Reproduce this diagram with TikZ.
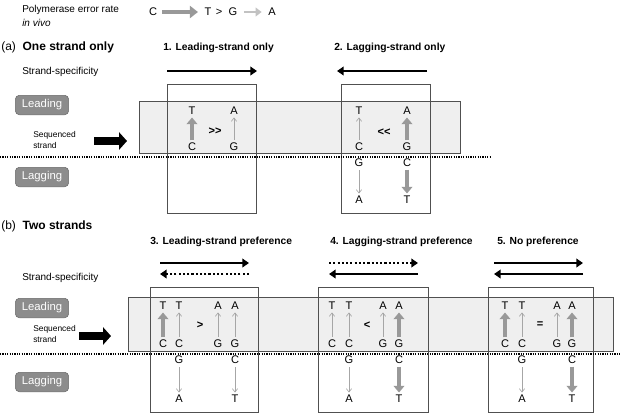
\documentclass[tikz,border=0pt]{standalone}
\usepackage{fontspec}
\setmainfont{Liberation Sans}
\usetikzlibrary{arrows.meta}

\definecolor{btngray}{HTML}{8C8C8C}
\definecolor{btnedge}{HTML}{6A6A6A}
\definecolor{bandgray}{HTML}{EFEFEF}
\definecolor{framegray}{HTML}{505050}
\definecolor{hotgray}{HTML}{999999}
\definecolor{coldgray}{HTML}{A6A6A6}
\definecolor{palegray}{HTML}{C2C2C2}

\begin{document}
\begin{tikzpicture}[x=0.75pt,y=-0.75pt,
  base/.style={inner sep=0.8pt,font=\fontsize{8.3}{9}\selectfont},
  rel/.style={inner sep=0.8pt,font=\fontsize{8.3}{9}\selectfont\bfseries},
  txt/.style={anchor=west,inner sep=0,font=\fontsize{7.5}{9}\selectfont},
  lbl/.style={anchor=west,inner sep=0,font=\fontsize{7.7}{9}\selectfont\bfseries},
  part/.style={anchor=west,inner sep=0,font=\fontsize{9}{10}\selectfont},
  btn/.style={draw=btnedge,fill=btngray,text=white,rounded corners=3pt,minimum width=40pt,minimum height=14pt,font=\fontsize{8.5}{9}\selectfont},
  seqtxt/.style={anchor=west,inner sep=0,align=left,font=\fontsize{6.3}{8.6}\selectfont},
  hot/.style={draw=hotgray,line width=2.7pt,-{Triangle[length=5pt,width=8pt]},shorten <=1pt,shorten >=1pt},
  cold/.style={draw=coldgray,line width=0.5pt,-{Straight Barb[length=2.5pt,width=4pt]},shorten <=1.5pt,shorten >=1pt},
  spec/.style={line width=2pt,-{Triangle[length=5pt,width=6.5pt]}},
  specdot/.style={spec,dash pattern=on 1.6pt off 1.6pt},
  seq/.style={line width=6pt,-{Triangle[length=6pt,width=13pt]}},
  band/.style={draw=framegray,fill=bandgray,line width=0.5pt},
  frame/.style={draw=framegray,line width=0.6pt},
  split/.style={line width=1.4pt,dash pattern=on 0.9pt off 0.9pt}]
\useasboundingbox (0,0) rectangle (620,419);

% Error rate
\node [txt] (rate) at (22,10) {Polymerase error rate};
\node [txt] (vivo) at (22,23) {\itshape in vivo};
\node [base] (rC) at (153,12) {C};
\node [base] (rT) at (208,12) {T};
\node [base] (rgt) at (219,12) {>};
\node [base] (rG) at (233,12) {G};
\node [base] (rA) at (272,12) {A};
\draw [hot,line width=3pt,-{Triangle[length=6pt,width=9pt]},shorten <=3pt,shorten >=4pt] (rC) -- (rT);
\draw [draw=palegray,line width=1.5pt,-{Triangle[length=4.5pt,width=6.5pt]},shorten <=4pt,shorten >=4pt] (rG) -- (rA);

% (a) One strand only
\node [part] (parta) at (1,47) {(a)\ \ \textbf{One strand only}};
\node [lbl] (lab1) at (163,48) {1. Leading-strand only};
\node [lbl] (lab2) at (334,48) {2. Lagging-strand only};
\node [txt] (specA) at (22,72) {Strand-specificity};
\coordinate (s1a) at (167,71);
\coordinate (s1b) at (257,71);
\coordinate (s2a) at (427,71);
\coordinate (s2b) at (337,71);
\draw [spec] (s1a) -- (s1b);
\draw [spec] (s2a) -- (s2b);

\draw [band] (139,101) rectangle (460,153);
\draw [frame] (167,84) rectangle (256,213);
\draw [frame] (341,84) rectangle (430,213);
\draw [split] (0,157) -- (490,157);

\node [btn] (leadA) at (42,105) {Leading};
\node [btn] (lagA) at (42,177) {Lagging};
\node [seqtxt] (seqA) at (33,140) {Sequenced\\strand};
\coordinate (qa1) at (94,141);
\coordinate (qa2) at (127,141);
\draw [seq] (qa1) -- (qa2);

% box 1
\node [base] (p1T) at (192,111) {T};
\node [base] (p1C) at (192,147) {C};
\node [base] (p1A) at (234,111) {A};
\node [base] (p1G) at (234,147) {G};
\node [rel] (p1rel) at (215,131) {>{}>};
\draw [hot] (p1C) -- (p1T);
\draw [cold] (p1G) -- (p1A);

% box 2
\node [base] (p2T) at (359,111) {T};
\node [base] (p2C) at (359,147) {C};
\node [base] (p2A) at (407,111) {A};
\node [base] (p2G) at (407,147) {G};
\node [rel] (p2rel) at (384,132) {<{}<};
\node [base] (q2G) at (359,163) {G};
\node [base] (q2A) at (359,200) {A};
\node [base] (q2C) at (407,163) {C};
\node [base] (q2T) at (407,200) {T};
\draw [cold] (p2C) -- (p2T);
\draw [hot] (p2G) -- (p2A);
\draw [cold] (q2G) -- (q2A);
\draw [hot] (q2C) -- (q2T);

% (b) Two strands
\node [part] (partb) at (1,226) {(b)\ \ \textbf{Two strands}};
\node [lbl] (lab3) at (150,242) {3. Leading-strand preference};
\node [lbl] (lab4) at (330,242) {4. Lagging-strand preference};
\node [lbl] (lab5) at (497,242) {5. No preference};
\node [txt] (specB) at (22,278) {Strand-specificity};
\coordinate (s3a) at (160,263);
\coordinate (s3b) at (249,263);
\coordinate (s4a) at (329,263);
\coordinate (s4b) at (418,263);
\coordinate (s5a) at (494,263);
\coordinate (s5b) at (583,263);
\coordinate (t3a) at (249,274);
\coordinate (t3b) at (160,274);
\coordinate (t4a) at (418,274);
\coordinate (t4b) at (329,274);
\coordinate (t5a) at (583,274);
\coordinate (t5b) at (494,274);
\draw [spec] (s3a) -- (s3b);
\draw [specdot] (t3a) -- (t3b);
\draw [specdot] (s4a) -- (s4b);
\draw [spec] (t4a) -- (t4b);
\draw [spec] (s5a) -- (s5b);
\draw [spec] (t5a) -- (t5b);

\draw [band] (128,297) rectangle (613,351);
\draw [frame] (150,287) rectangle (258,412);
\draw [frame] (318,287) rectangle (428,412);
\draw [frame] (488,287) rectangle (593,412);
\draw [split] (0,354) -- (620,354);

\node [btn] (leadB) at (42,308) {Leading};
\node [btn] (lagB) at (42,382) {Lagging};
\node [seqtxt] (seqB) at (33,334) {Sequenced\\strand};
\coordinate (qb1) at (79,336);
\coordinate (qb2) at (111,336);
\draw [seq] (qb1) -- (qb2);

% box 3
\node [base] (b3T1) at (163,306) {T};
\node [base] (b3C1) at (163,344) {C};
\node [base] (b3T2) at (179,306) {T};
\node [base] (b3C2) at (179,344) {C};
\node [base] (b3A1) at (218,306) {A};
\node [base] (b3G1) at (218,344) {G};
\node [base] (b3A2) at (235,306) {A};
\node [base] (b3G2) at (235,344) {G};
\node [rel] (b3rel) at (200,325) {>};
\node [base] (c3G) at (179,360) {G};
\node [base] (c3A) at (179,399) {A};
\node [base] (c3C) at (235,360) {C};
\node [base] (c3T) at (235,399) {T};
\draw [hot] (b3C1) -- (b3T1);
\draw [cold] (b3C2) -- (b3T2);
\draw [cold] (b3G1) -- (b3A1);
\draw [cold] (b3G2) -- (b3A2);
\draw [cold] (c3G) -- (c3A);
\draw [cold] (c3C) -- (c3T);

% box 4
\node [base] (b4T1) at (332,306) {T};
\node [base] (b4C1) at (332,344) {C};
\node [base] (b4T2) at (349,306) {T};
\node [base] (b4C2) at (349,344) {C};
\node [base] (b4A1) at (383,306) {A};
\node [base] (b4G1) at (383,344) {G};
\node [base] (b4A2) at (399,306) {A};
\node [base] (b4G2) at (399,344) {G};
\node [rel] (b4rel) at (367,325) {<};
\node [base] (c4G) at (349,360) {G};
\node [base] (c4A) at (349,399) {A};
\node [base] (c4C) at (399,360) {C};
\node [base] (c4T) at (399,399) {T};
\draw [cold] (b4C1) -- (b4T1);
\draw [cold] (b4C2) -- (b4T2);
\draw [cold] (b4G1) -- (b4A1);
\draw [hot] (b4G2) -- (b4A2);
\draw [cold] (c4G) -- (c4A);
\draw [hot] (c4C) -- (c4T);

% box 5
\node [base] (b5T1) at (505,306) {T};
\node [base] (b5C1) at (505,344) {C};
\node [base] (b5T2) at (522,306) {T};
\node [base] (b5C2) at (522,344) {C};
\node [base] (b5A1) at (557,306) {A};
\node [base] (b5G1) at (557,344) {G};
\node [base] (b5A2) at (572,306) {A};
\node [base] (b5G2) at (572,344) {G};
\node [rel] (b5rel) at (540,325) {=};
\node [base] (c5G) at (522,360) {G};
\node [base] (c5A) at (522,399) {A};
\node [base] (c5C) at (572,360) {C};
\node [base] (c5T) at (572,399) {T};
\draw [hot] (b5C1) -- (b5T1);
\draw [cold] (b5C2) -- (b5T2);
\draw [cold] (b5G1) -- (b5A1);
\draw [hot] (b5G2) -- (b5A2);
\draw [cold] (c5G) -- (c5A);
\draw [hot] (c5C) -- (c5T);

\end{tikzpicture}
\end{document}
